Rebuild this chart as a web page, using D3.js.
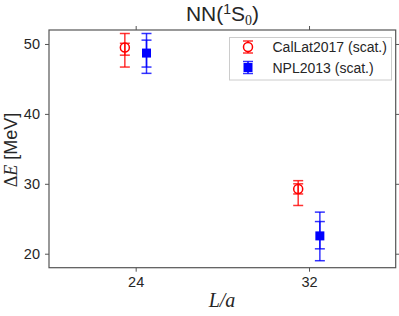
<!DOCTYPE html>
<html><head><meta charset="utf-8">
<script src="https://cdn.jsdelivr.net/npm/d3@7"></script>
<style>html,body{margin:0;padding:0;background:#fff;}svg{display:block;}</style>
</head><body>
<svg id="c" width="399" height="316"></svg>
<script>
const L = [24, 32];
const xTicks = [24, 32];
const yTicks = [20, 30, 40, 50];
const seriesNames = ["CalLat2017 (scat.)", "NPL2013 (scat.)"];
const callatE = [49.5, 29.25];
const callatStatHi = [50.1, 30.0];
const callatStatLo = [48.4, 28.55];
const callatTotHi = [51.5, 30.45];
const callatTotLo = [46.7, 26.9];
const nplE = [48.7, 22.55];
const nplStatHi = [50.55, 24.6];
const nplStatLo = [46.7, 20.7];
const nplTotHi = [51.5, 25.95];
const nplTotLo = [45.8, 19.0];
const offsets = [-0.5, 0.5];

const svg = d3.select("#c");
const m = {l: 49, r: 395.7, t: 30, b: 267.7};
const x = d3.scaleLinear().domain([20, 36]).range([m.l, m.r]);
const y = d3.scaleLinear().domain([18, 52]).range([m.b, m.t]);
const frame = "#555";
const sans = "'Liberation Sans', Arial, sans-serif";
const serif = "'Liberation Serif', 'Times New Roman', serif";

// axes
const gx = svg.append("g").attr("transform", `translate(0,${m.b})`)
  .call(d3.axisBottom(x).tickValues(xTicks).tickSize(4).tickPadding(5));
const gxt = svg.append("g").attr("transform", `translate(0,${m.t})`)
  .call(d3.axisTop(x).tickValues(xTicks).tickSize(4).tickFormat(""));
const gy = svg.append("g").attr("transform", `translate(${m.l},0)`)
  .call(d3.axisLeft(y).tickValues(yTicks).tickSize(4).tickPadding(5));
const gyr = svg.append("g").attr("transform", `translate(${m.r},0)`)
  .call(d3.axisRight(y).tickValues(yTicks).tickSize(4).tickFormat(""));
[gx, gxt, gy, gyr].forEach(g => {
  g.select(".domain").remove();
  g.selectAll("line").attr("stroke", frame).attr("stroke-width", 1);
  g.selectAll("text").attr("fill", "#262626").style("font-family", sans).style("font-size", "14.5px");
});
svg.append("rect").attr("x", m.l).attr("y", m.t).attr("width", m.r - m.l).attr("height", m.b - m.t)
  .attr("fill", "none").attr("stroke", frame).attr("stroke-width", 1.2);

function errbar(g, cx, lo, hi, color) {
  const cw = 5;
  g.append("line").attr("x1", cx).attr("x2", cx).attr("y1", y(lo)).attr("y2", y(hi))
    .attr("stroke", color).attr("stroke-width", 1.5).attr("stroke-opacity", 0.8);
  [lo, hi].forEach(v => g.append("line").attr("x1", cx - cw).attr("x2", cx + cw)
    .attr("y1", y(v)).attr("y2", y(v)).attr("stroke", color).attr("stroke-width", 1.5).attr("stroke-opacity", 0.8));
}

const series = [
  {color: "#ff0000", E: callatE, sh: callatStatHi, sl: callatStatLo, th: callatTotHi, tl: callatTotLo, mk: "circle"},
  {color: "#0000ff", E: nplE, sh: nplStatHi, sl: nplStatLo, th: nplTotHi, tl: nplTotLo, mk: "square"}
];
series.forEach((s, si) => {
  const g = svg.append("g");
  L.forEach((l, i) => {
    const cx = x(l + offsets[si]);
    errbar(g, cx, s.tl[i], s.th[i], s.color);
    errbar(g, cx, s.sl[i], s.sh[i], s.color);
    if (s.mk === "circle") {
      g.append("circle").attr("cx", cx).attr("cy", y(s.E[i])).attr("r", 4.5)
        .attr("fill", "none").attr("stroke", s.color).attr("stroke-width", 1.5);
    } else {
      g.append("rect").attr("x", cx - 4.5).attr("y", y(s.E[i]) - 4.5).attr("width", 9).attr("height", 9)
        .attr("fill", s.color);
    }
  });
});

// legend
const lg = svg.append("g");
lg.append("rect").attr("x", 229.5).attr("y", 37.5).attr("width", 162).attr("height", 42.5)
  .attr("fill", "#fff").attr("fill-opacity", 0.85).attr("stroke", "#ccc").attr("stroke-width", 1);
series.forEach((s, si) => {
  const cy = 47 + si * 20.5, cx = 248;
  lg.append("line").attr("x1", cx).attr("x2", cx).attr("y1", cy - 6).attr("y2", cy + 6).attr("stroke", s.color).attr("stroke-width", 1.5);
  [cy - 6, cy + 6].forEach(v => lg.append("line").attr("x1", cx - 5).attr("x2", cx + 5).attr("y1", v).attr("y2", v).attr("stroke", s.color).attr("stroke-width", 1.5).attr("stroke-opacity", 0.8));
  if (s.mk === "circle") lg.append("circle").attr("cx", cx).attr("cy", cy).attr("r", 4.5).attr("fill", "#fff").attr("stroke", s.color).attr("stroke-width", 1.5);
  else lg.append("rect").attr("x", cx - 4.5).attr("y", cy - 4.5).attr("width", 9).attr("height", 9).attr("fill", s.color);
  lg.append("text").attr("x", 272.5).attr("y", cy + 5).text(seriesNames[si])
    .style("font-family", sans).style("font-size", "14px").attr("fill", "#262626");
});

// title
const t = svg.append("text").attr("x", 222.5).attr("y", 21).attr("text-anchor", "middle")
  .style("font-family", sans).style("font-size", "21px").attr("fill", "#262626");
t.append("tspan").text("NN(");
t.append("tspan").text("1").attr("dy", -7).style("font-size", "14px");
t.append("tspan").text("S").attr("dy", 7);
t.append("tspan").text("0").attr("dy", 4).style("font-size", "14px").style("font-family", serif);
t.append("tspan").text(")").attr("dy", -4);

// x label
svg.append("text").attr("x", 222).attr("y", 307).attr("text-anchor", "middle")
  .style("font-family", serif).style("font-style", "italic").style("font-size", "20px").attr("fill", "#262626")
  .text("L/a");

// y label
const yl = svg.append("text").attr("transform", "translate(17,150) rotate(-90)").attr("text-anchor", "middle")
  .style("font-size", "18px").attr("fill", "#262626");
yl.append("tspan").text("Δ").style("font-family", serif);
yl.append("tspan").text("E").style("font-family", serif).style("font-style", "italic");
yl.append("tspan").text(" [MeV]").style("font-family", sans);
</script>
</body></html>
